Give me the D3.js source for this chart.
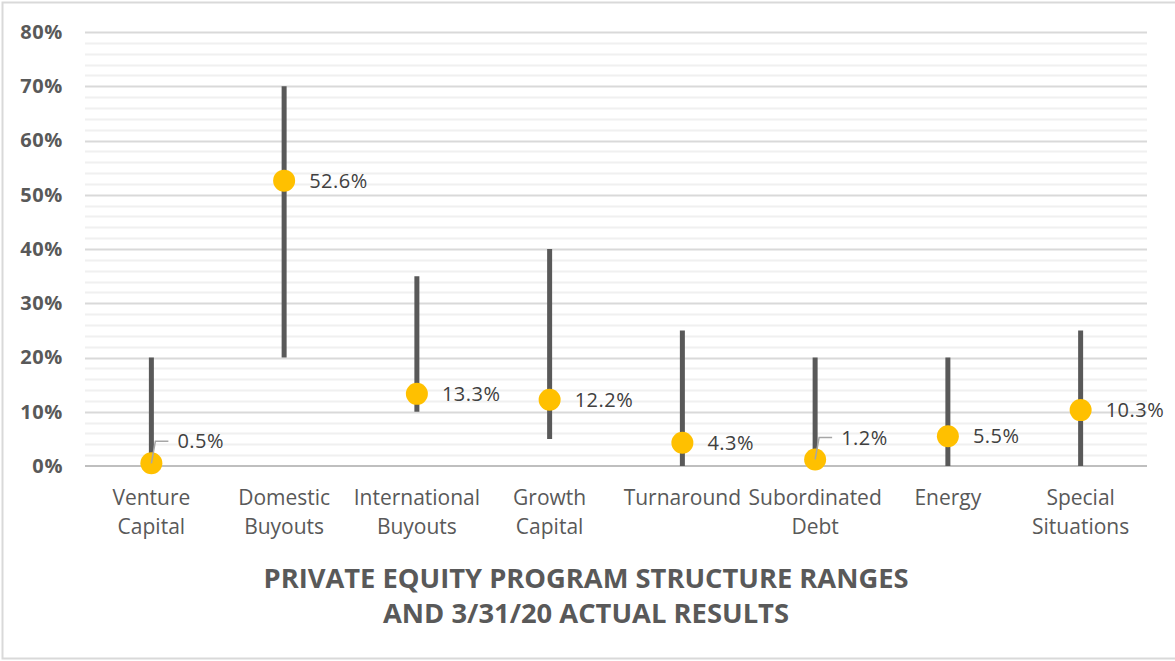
<!DOCTYPE html>
<html>
<head>
<meta charset="utf-8">
<script src="https://cdn.jsdelivr.net/npm/d3@7"></script>
<style>
  body { margin: 0; background: #fff; }
  text { font-family: "Open Sans", "Noto Sans", sans-serif; }
</style>
</head>
<body>
<div id="chart"></div>
<script>
var categories = [
  ['Venture', 'Capital'],
  ['Domestic', 'Buyouts'],
  ['International', 'Buyouts'],
  ['Growth', 'Capital'],
  ['Turnaround'],
  ['Subordinated', 'Debt'],
  ['Energy'],
  ['Special', 'Situations']
];
var rangeLow  = [0, 20, 10, 5, 0, 0, 0, 0];
var rangeHigh = [20, 70, 35, 40, 25, 20, 20, 25];
var actual    = [0.5, 52.6, 13.3, 12.2, 4.3, 1.2, 5.5, 10.3];
var leaderIdx = [0, 5]; // labels pulled up with a leader line
var yTicks    = [0, 10, 20, 30, 40, 50, 60, 70, 80];
var titleLines = ['PRIVATE EQUITY PROGRAM STRUCTURE RANGES', 'AND 3/31/20 ACTUAL RESULTS'];

var w = 1175, h = 661;
var m = { left: 85, right: 1147, top: 32, bottom: 466 };

var svg = d3.select('#chart').append('svg')
  .attr('width', w)
  .attr('height', h);

// chart frame
svg.append('rect')
  .attr('x', 2.5).attr('y', 2.5)
  .attr('width', w + 10).attr('height', 656)
  .attr('fill', '#fff')
  .attr('stroke', '#d9d9d9')
  .attr('stroke-width', 2);

var x = d3.scaleBand()
  .domain(d3.range(categories.length))
  .range([m.left, m.right]);

var y = d3.scaleLinear()
  .domain([0, 80])
  .range([m.bottom, m.top]);

// minor gridlines every 2%
svg.append('g').selectAll('line')
  .data(d3.range(2, 80, 2).filter(function(v) { return v % 10 !== 0; }))
  .enter().append('line')
  .attr('x1', m.left).attr('x2', m.right)
  .attr('y1', function(d) { return Math.round(y(d)) + 0.5; })
  .attr('y2', function(d) { return Math.round(y(d)) + 0.5; })
  .attr('stroke', '#f0f0f0')
  .attr('stroke-width', 2);

// major gridlines
svg.append('g').selectAll('line')
  .data(yTicks.slice(1))
  .enter().append('line')
  .attr('x1', m.left).attr('x2', m.right)
  .attr('y1', function(d) { return Math.round(y(d)) + 0.5; })
  .attr('y2', function(d) { return Math.round(y(d)) + 0.5; })
  .attr('stroke', '#d9d9d9')
  .attr('stroke-width', 2);

// y axis labels
var yAxis = d3.axisLeft(y)
  .tickValues(yTicks)
  .tickFormat(function(d) { return d + '%'; })
  .tickSize(0)
  .tickPadding(22);

var gy = svg.append('g')
  .attr('transform', 'translate(' + m.left + ',0)')
  .call(yAxis);
gy.select('.domain').remove();
gy.selectAll('text')
  .attr('fill', '#595959')
  .style('font-size', '20px')
  .style('letter-spacing', '0.6px')
  .style('font-weight', 'bold');

// zero axis line
svg.append('line')
  .attr('x1', m.left).attr('x2', m.right)
  .attr('y1', y(0)).attr('y2', y(0))
  .attr('stroke', '#bfbfbf')
  .attr('stroke-width', 2);

// x category labels
var gx = svg.append('g');
categories.forEach(function(lines, i) {
  var t = gx.append('text')
    .attr('x', x(i) + x.bandwidth() / 2)
    .attr('y', 505)
    .attr('text-anchor', 'middle')
    .attr('fill', '#595959')
    .style('font-size', '21px');
  lines.forEach(function(s, j) {
    t.append('tspan')
      .attr('x', x(i) + x.bandwidth() / 2)
      .attr('dy', j === 0 ? 0 : 29)
      .text(s);
  });
});

// range bars
svg.append('g').selectAll('line')
  .data(d3.range(categories.length))
  .enter().append('line')
  .attr('x1', function(i) { return x(i) + x.bandwidth() / 2; })
  .attr('x2', function(i) { return x(i) + x.bandwidth() / 2; })
  .attr('y1', function(i) { return y(rangeLow[i]); })
  .attr('y2', function(i) { return y(rangeHigh[i]); })
  .attr('stroke', '#595959')
  .attr('stroke-width', 5);

// actual dots
svg.append('g').selectAll('circle')
  .data(d3.range(categories.length))
  .enter().append('circle')
  .attr('cx', function(i) { return x(i) + x.bandwidth() / 2; })
  .attr('cy', function(i) { return y(actual[i]); })
  .attr('r', 11)
  .attr('fill', '#ffc000');

// labels
var lab = svg.append('g');
d3.range(categories.length).forEach(function(i) {
  var cx = x(i) + x.bandwidth() / 2, cy = y(actual[i]);
  var tx = cx + 25, ty = cy;
  if (leaderIdx.indexOf(i) >= 0) {
    ty = cy - 22;
    tx = cx + 26;
    lab.append('polyline')
      .attr('points', [[cx, cy], [cx + 4, ty], [cx + 17, ty]].join(' '))
      .attr('fill', 'none')
      .attr('stroke', '#a6a6a6')
      .attr('stroke-width', 1.5);
  }
  lab.append('text')
    .attr('x', tx)
    .attr('y', ty)
    .attr('dy', '0.36em')
    .attr('fill', '#404040')
    .style('font-size', '20px')
    .style('letter-spacing', '0.5px')
    .text(actual[i].toFixed(1) + '%');
});

// title
titleLines.forEach(function(s, j) {
  svg.append('text')
    .attr('x', 586)
    .attr('y', 588 + j * 35)
    .attr('text-anchor', 'middle')
    .attr('fill', '#595959')
    .style('font-size', '27px')
    .style('font-weight', 'bold')
    .attr('textLength', j === 0 ? 645 : 406)
    .attr('lengthAdjust', 'spacingAndGlyphs')
    .text(s);
});
</script>
</body>
</html>
